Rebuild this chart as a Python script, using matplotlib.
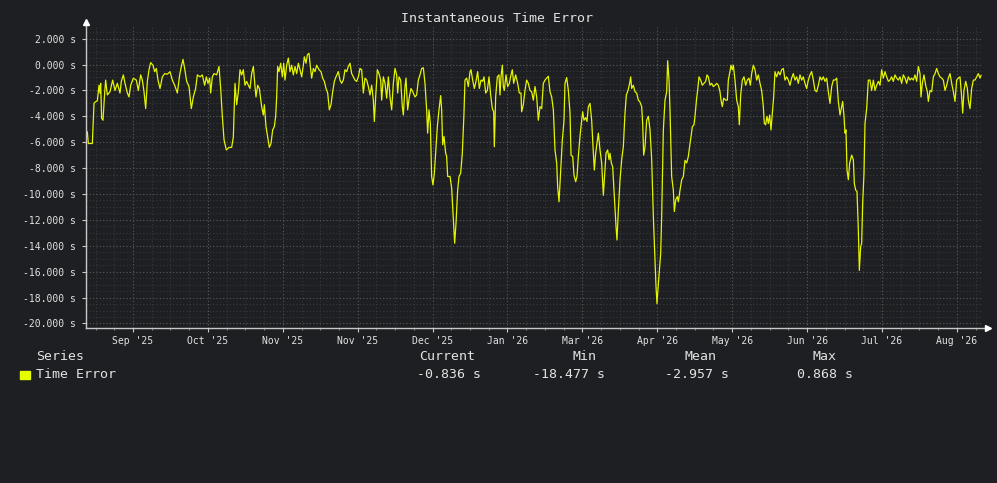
import numpy as np
import matplotlib
matplotlib.use("Agg")
import matplotlib.pyplot as plt
from matplotlib.patches import Rectangle
from matplotlib.ticker import MultipleLocator, FixedLocator

# (day since start, time error in s)
late_aug_to_oct = [
    (0.54, -5.2), (0.95, -6.1), (2.58, -6.1), (3.26, -3.0), (3.67, -2.9), (4.62, -2.8),
    (5.30, -1.6), (5.70, -2.2), (5.97, -1.45), (6.38, -4.15), (6.92, -4.3), (7.60, -2.2),
    (8.01, -1.2), (8.69, -2.35), (9.78, -2.1), (10.86, -1.2), (11.81, -2.0), (12.76, -1.45),
    (13.85, -2.2), (14.39, -1.3), (15.21, -0.8), (15.89, -1.45), (16.84, -2.2), (17.52, -2.5),
    (18.20, -1.6), (19.28, -1.05), (20.50, -1.2), (21.32, -2.0), (22.27, -0.8), (22.95, -1.2),
    (23.63, -2.1), (24.31, -3.4), (24.99, -1.3), (25.66, -0.4), (26.34, 0.15), (27.29, -0.05),
    (27.97, -0.55), (28.65, -0.3), (29.33, -1.2), (30.15, -1.85), (31.10, -0.95), (32.05, -0.7),
    (33.13, -0.75), (34.22, -0.55), (35.17, -1.2), (36.12, -1.6), (37.21, -2.2), (38.16, -0.8),
    (38.84, -0.15), (39.51, 0.4), (40.19, -0.3), (41.01, -1.3), (41.96, -1.7), (42.91, -3.4),
    (43.72, -2.5), (44.67, -1.85), (45.35, -0.8), (46.44, -0.95), (47.39, -0.8), (48.34, -1.6),
    (49.02, -0.95), (49.70, -1.45), (50.38, -1.05), (50.79, -2.2), (51.46, -0.95), (52.14, -0.7),
    (53.23, -0.8), (54.18, -0.15), (54.86, -1.85), (55.54, -4.0), (56.22, -5.8), (57.17, -6.6),
    (58.25, -6.4), (59.34, -6.4), (60.02, -5.6),
]
oct_to_dec = [
    (60.70, -1.45), (61.38, -3.1), (62.06, -2.1), (62.74, -0.4), (63.42, -0.8), (64.09, -0.4),
    (64.77, -1.6), (65.45, -1.3), (66.13, -1.6), (66.81, -1.85), (67.49, -0.7), (68.17, -0.15),
    (68.85, -1.7), (69.25, -2.5), (69.93, -1.6), (70.61, -1.85), (71.56, -3.25), (72.24, -3.9),
    (72.65, -3.1), (73.33, -4.8), (73.87, -5.45), (74.69, -6.4), (75.37, -6.1), (76.04, -5.05),
    (76.72, -4.8), (77.27, -4.0), (77.67, -2.5), (78.08, -0.15), (78.62, -0.55), (79.30, 0.1),
    (79.98, -0.95), (80.53, 0.1), (81.07, -1.2), (81.75, -0.05), (82.43, 0.5), (83.11, -0.55),
    (83.78, -0.05), (84.46, -0.8), (85.14, -0.15), (85.82, -0.7), (86.50, 0.1), (87.18, -0.4),
    (87.86, -0.95), (88.54, -0.05), (88.94, 0.6), (89.62, 0.1), (90.17, 0.75), (90.85, 0.868),
    (91.39, -0.15), (91.93, -1.05), (92.61, -0.3), (93.29, -0.55), (93.97, -0.05), (94.92, -0.4),
    (95.73, -0.55), (96.41, -1.05), (97.09, -1.3), (97.77, -1.85), (98.45, -2.2), (99.13, -3.5),
    (99.81, -3.1), (100.49, -2.1), (101.17, -1.3), (101.84, -0.95), (102.79, -0.55), (103.47, -1.2),
    (104.15, -1.45), (104.83, -1.2), (105.51, -0.4), (106.19, -0.55), (106.87, -0.15), (107.55, 0.1),
    (108.23, -0.7), (108.91, -0.95), (109.58, -1.2), (110.26, -1.3), (110.94, -0.95), (111.62, -0.3),
    (112.30, -0.4), (112.98, -2.2), (113.66, -1.05), (114.34, -1.2), (115.02, -1.7), (115.69, -2.35),
    (116.37, -1.6), (117.05, -2.75), (117.46, -4.4), (118.00, -2.5), (118.68, -0.4), (119.36, -0.7),
    (120.04, -1.2), (120.45, -2.75), (121.13, -0.95),
]
dec_to_feb = [
    (121.80, -1.45), (122.48, -2.6), (123.16, -0.95), (123.84, -2.5), (124.52, -3.5), (125.20, -1.45),
    (125.87, -0.3), (126.55, -0.8), (126.96, -2.2), (127.50, -0.95), (128.18, -1.2), (128.86, -3.25),
    (129.27, -3.9), (129.95, -1.7), (130.35, -1.05), (131.03, -3.5), (131.71, -2.5), (132.39, -1.85),
    (133.07, -2.1), (134.02, -2.5), (134.70, -2.35), (135.38, -1.2), (136.06, -0.8), (136.74, -0.3),
    (137.42, -0.25), (138.09, -1.45), (138.77, -3.5), (139.18, -5.3), (139.72, -3.5), (140.27, -4.55),
    (140.81, -8.65), (141.35, -9.3), (141.90, -8.4), (142.44, -6.85), (143.12, -4.8), (143.80, -3.5),
    (144.48, -2.4), (144.88, -3.5), (145.29, -6.2), (145.84, -5.55), (146.51, -6.85), (146.92, -7.1),
    (147.33, -8.65), (148.28, -8.65), (148.96, -9.55), (149.64, -12.0), (150.18, -13.8), (150.72, -12.3),
    (151.40, -9.7), (151.95, -8.65), (152.62, -8.4), (153.30, -6.85), (153.98, -3.75), (154.39, -1.2),
    (155.07, -1.05), (155.75, -1.7), (156.43, -0.55), (156.83, -0.4), (157.51, -1.2), (158.19, -1.85),
    (158.87, -1.3), (159.55, -0.55), (160.23, -1.85), (160.91, -1.2), (161.59, -1.3), (162.13, -0.95),
    (162.81, -2.2), (163.49, -2.0), (164.17, -0.95), (164.85, -2.35), (165.52, -3.4), (166.07, -3.65),
    (166.34, -6.35), (166.88, -2.5), (167.56, -0.95), (168.24, -0.8), (168.65, -2.35), (169.05, -0.95),
    (169.60, -0.05), (170.00, -1.7), (170.41, -2.0), (171.09, -0.8), (171.77, -1.7), (172.45, -1.45),
    (173.13, -0.8), (173.67, -0.4), (174.21, -1.45), (175.03, -0.8), (175.84, -1.45), (176.52, -2.2),
    (177.20, -2.2), (177.47, -3.65), (178.15, -3.1), (178.83, -2.0), (179.51, -1.2), (180.19, -1.45),
    (180.87, -2.0), (181.55, -2.1), (182.23, -2.75),
]
feb_to_apr = [
    (182.91, -1.7), (183.59, -2.5), (184.27, -4.3), (184.95, -3.25), (185.63, -3.4), (186.30, -1.45),
    (186.98, -1.2), (187.66, -1.05), (188.34, -0.9), (189.02, -2.1), (189.70, -2.5), (190.38, -3.5),
    (191.06, -6.6), (191.74, -7.6), (192.14, -9.45), (192.69, -10.6), (193.37, -8.15), (194.04, -5.85),
    (194.72, -4.3), (195.13, -1.45), (195.81, -1.0), (196.49, -2.0), (197.17, -3.75), (197.58, -7.0),
    (198.25, -7.1), (198.80, -8.55), (199.48, -9.05), (200.02, -8.65), (200.56, -7.1), (201.24, -5.55),
    (201.92, -4.3), (202.33, -3.65), (202.87, -4.3), (203.55, -4.1), (204.09, -4.4), (204.64, -3.25),
    (205.31, -3.0), (205.99, -4.3), (206.54, -6.35), (207.08, -8.15), (207.62, -6.85), (208.30, -5.85),
    (208.71, -5.3), (209.39, -6.6), (210.07, -7.6), (210.75, -10.1), (211.15, -8.9), (211.83, -6.85),
    (212.51, -6.6), (213.06, -7.35), (213.46, -6.85), (214.01, -7.6), (214.55, -7.9), (215.23, -10.2),
    (215.91, -12.5), (216.31, -13.55), (216.86, -11.25), (217.54, -8.9), (218.22, -7.35), (218.89, -6.35),
    (219.57, -3.75), (220.12, -2.35), (220.80, -2.0), (221.47, -1.45), (221.88, -0.95), (222.29, -1.85),
    (222.97, -1.6), (223.65, -2.1), (224.32, -2.2), (225.00, -2.75), (225.68, -2.9), (226.36, -3.25),
    (226.77, -4.55), (227.18, -7.0), (227.72, -6.35), (228.40, -4.3), (229.08, -4.0), (229.76, -5.05),
    (230.44, -7.35), (231.12, -11.75), (231.79, -15.1), (232.20, -17.15), (232.61, -18.477), (233.02, -17.3),
    (233.56, -15.9), (234.10, -14.6), (234.51, -11.75), (235.19, -5.05), (235.87, -2.75), (236.55, -2.1),
    (236.95, 0.3), (237.50, -1.2), (237.90, -3.5), (238.58, -8.65), (239.26, -9.7), (239.67, -11.35),
    (240.21, -10.45), (240.89, -10.2), (241.30, -10.6), (241.98, -9.7), (242.66, -8.9), (243.34, -8.65),
]
apr_to_jun = [
    (244.01, -7.4), (244.69, -7.6), (245.37, -7.1), (246.05, -6.1), (246.45, -5.6), (247.00, -4.8),
    (247.68, -4.65), (248.08, -4.0), (248.76, -2.6), (249.17, -2.0), (249.71, -0.95), (250.39, -1.2),
    (251.07, -1.6), (251.75, -1.45), (252.43, -1.3), (252.97, -0.8), (253.52, -0.95), (254.19, -1.6),
    (254.87, -1.45), (255.55, -1.7), (256.23, -1.6), (256.91, -1.45), (257.59, -1.6), (258.27, -2.1),
    (258.68, -2.75), (259.22, -3.25), (259.76, -2.6), (260.58, -2.75), (261.26, -2.75), (261.66, -1.2),
    (262.34, -0.55), (262.75, -0.05), (263.29, -0.4), (263.70, -0.05), (264.38, -1.2), (265.06, -2.75),
    (265.74, -3.25), (266.14, -4.65), (266.69, -2.35), (267.37, -1.2), (268.05, -0.95), (268.72, -1.6),
    (269.40, -1.2), (270.08, -1.05), (270.63, -1.6), (271.17, -0.7), (271.85, -0.05), (272.53, -0.4),
    (273.21, -1.2), (273.88, -0.8), (274.56, -1.45), (275.24, -2.0), (275.92, -3.25), (276.33, -4.55),
    (276.87, -4.65), (277.41, -4.0), (277.96, -4.55), (278.50, -3.9), (279.04, -5.05), (279.59, -3.75),
    (280.13, -2.5), (280.67, -0.55), (281.35, -0.95), (282.03, -0.55), (282.71, -0.8), (283.39, -0.4),
    (284.07, -0.3), (284.75, -1.2), (285.42, -0.95), (286.10, -1.2), (286.78, -1.6), (287.46, -1.05),
    (288.14, -0.7), (288.82, -1.2), (289.50, -0.95), (290.18, -1.45), (290.86, -0.8), (291.54, -1.2),
    (292.21, -0.95), (292.89, -1.45), (293.57, -1.85), (294.25, -1.2), (294.93, -0.8), (295.61, -0.55),
    (296.29, -1.2), (296.97, -2.0), (297.65, -2.1), (298.33, -1.6), (299.00, -0.95), (299.68, -1.2),
    (300.36, -0.95), (301.04, -1.3), (301.72, -1.05), (302.40, -2.1), (303.08, -3.0), (303.76, -1.7),
    (304.44, -1.2),
]
jun_to_aug = [
    (305.12, -1.2), (305.80, -1.05), (306.48, -2.85), (307.16, -3.9), (307.84, -3.25), (308.24, -2.85),
    (308.79, -4.0), (309.19, -5.3), (309.60, -5.05), (310.01, -8.15), (310.55, -8.9), (311.09, -7.6),
    (311.91, -7.0), (312.59, -7.35), (313.00, -9.2), (313.54, -9.7), (314.08, -9.8), (314.63, -12.8),
    (315.03, -15.9), (315.58, -14.05), (315.98, -13.8), (316.39, -10.7), (316.93, -8.4), (317.34, -4.55),
    (318.02, -3.4), (318.70, -1.2), (319.38, -1.2), (320.06, -2.0), (320.74, -1.2), (321.41, -2.0),
    (322.09, -1.6), (322.77, -1.3), (323.45, -1.6), (324.13, -0.4), (324.81, -1.05), (325.49, -0.55),
    (326.17, -0.95), (326.85, -1.3), (327.52, -1.2), (328.20, -0.95), (328.88, -1.3), (329.56, -0.8),
    (330.24, -1.05), (330.92, -1.2), (331.60, -0.95), (332.28, -1.45), (332.96, -0.8), (333.64, -1.05),
    (334.31, -1.45), (334.99, -0.95), (335.67, -1.2), (336.35, -1.05), (337.03, -1.2), (337.71, -0.8),
    (338.39, -1.3), (339.07, -0.15), (339.75, -0.7), (340.15, -2.5), (340.69, -1.45), (341.37, -0.8),
    (342.05, -1.6), (342.73, -2.1), (343.14, -2.85), (343.82, -2.0), (344.50, -2.1), (345.18, -0.95),
    (345.86, -0.7), (346.54, -0.3), (347.21, -0.7), (347.89, -0.95), (348.57, -1.05), (349.25, -1.2),
    (349.93, -2.0), (350.61, -1.6), (351.29, -1.05), (351.97, -0.7), (352.65, -1.45), (353.33, -2.1),
    (354.00, -2.85), (354.68, -1.2), (355.36, -1.05), (356.04, -0.95), (356.72, -2.5), (357.13, -3.75),
    (357.67, -2.0), (358.35, -1.3), (359.03, -1.85), (359.44, -2.75), (360.12, -3.4), (360.79, -1.85),
    (361.47, -1.2), (362.15, -1.2), (362.83, -0.95), (363.51, -0.7), (364.19, -1.05), (364.60, -0.836),
]

month_labels = ["Sep '25", "Oct '25", "Nov '25", "Nov '25", "Dec '25", "Jan '26",
                "Mar '26", "Apr '26", "May '26", "Jun '26", "Jul '26", "Aug '26"]
first_tick_day = 19.15
tick_step_days = 30.51

stat_headers = ["Current", "Min", "Mean", "Max"]
stat_values = ["-0.836 s", "-18.477 s", "-2.957 s", "0.868 s"]

BG = "#1e1f22"
FG = "#e2e2e2"
AXIS = "#c8c8c8"
LINE = "#e4f500"
MONO = "DejaVu Sans Mono"

pts = late_aug_to_oct + oct_to_dec + dec_to_feb + feb_to_apr + apr_to_jun + jun_to_aug
days = np.array([p[0] for p in pts])
err = np.array([p[1] for p in pts])

W, H = 997, 483
fig = plt.figure(figsize=(W / 100, H / 100), dpi=100, facecolor=BG)
left, right, top, bottom = 86, 982, 27, 328
ax = fig.add_axes([left / W, 1 - bottom / H, (right - left) / W, (bottom - top) / H])
ax.set_facecolor(BG)

ax.plot(days, err, color=LINE, lw=0.9, zorder=3)

ax.set_xlim(0, 365)
ax.set_ylim(-20.35, 2.9)

xt = first_tick_day + tick_step_days * np.arange(len(month_labels))
ax.xaxis.set_major_locator(FixedLocator(xt))
minor_x = first_tick_day + tick_step_days / 4 * np.arange(-3, 4 * len(month_labels))
ax.xaxis.set_minor_locator(FixedLocator([m for m in minor_x if 0 < m < 365]))
ax.set_xticklabels(month_labels)

ax.yaxis.set_minor_locator(MultipleLocator(0.5))
yt = np.arange(-20, 3, 2)
ax.set_yticks(yt)
ax.set_yticklabels([f"{v:.3f} s" for v in yt])

ax.grid(which="major", color="#5c5c5c", linestyle=(0, (1, 2)), lw=0.8)
ax.grid(which="minor", color="#383838", linestyle=(0, (1, 2)), lw=0.8)
ax.set_axisbelow(True)

for lab in ax.get_xticklabels() + ax.get_yticklabels():
    lab.set_fontfamily(MONO)
    lab.set_fontsize(7)
    lab.set_color(FG)
ax.tick_params(which="major", length=3, color=AXIS, width=0.8, pad=4)
ax.tick_params(axis="x", which="minor", length=1.5, color="#808080", width=0.8)
ax.tick_params(axis="y", which="minor", length=0)
ax.tick_params(axis="x", which="major", pad=3)

for s in ax.spines.values():
    s.set_visible(False)

# axis lines with arrow heads, as in rrdtool
ax.plot([0, 0], [0, 1 + 5 / (bottom - top)], transform=ax.transAxes, color=AXIS,
        lw=1, clip_on=False, zorder=4)
ax.plot([0, 1 + 6 / (right - left)], [0, 0], transform=ax.transAxes, color=AXIS,
        lw=1, clip_on=False, zorder=4)
ax.plot([0], [1 + 5 / (bottom - top)], marker="^", ms=4, color="white",
        transform=ax.transAxes, clip_on=False, zorder=5)
ax.plot([1 + 6 / (right - left)], [0], marker=">", ms=4, color="white",
        transform=ax.transAxes, clip_on=False, zorder=5)

fig.text(497 / W, 1 - 19 / H, "Instantaneous Time Error", color=FG,
         family=MONO, fontsize=9.5, ha="center", va="center")

# legend block
fig.text(36 / W, 1 - 356 / H, "Series", color=FG, family=MONO, fontsize=9.5, va="center")
fig.text(36 / W, 1 - 374 / H, "Time Error", color=FG, family=MONO, fontsize=9.5, va="center")
fig.patches.append(Rectangle((20 / W, 1 - 379 / H), 9.5 / W, 8.5 / H,
                             transform=fig.transFigure, color="#e5ff00"))
head_x = [419, 572, 684, 812]
val_x = [417, 533, 665, 797]
for h, v, hx, vx in zip(stat_headers, stat_values, head_x, val_x):
    fig.text(hx / W, 1 - 356 / H, h, color=FG, family=MONO, fontsize=9.5, va="center")
    fig.text(vx / W, 1 - 374 / H, v, color=FG, family=MONO, fontsize=9.5, va="center")

fig.savefig("out.png", dpi=100, facecolor=BG)
